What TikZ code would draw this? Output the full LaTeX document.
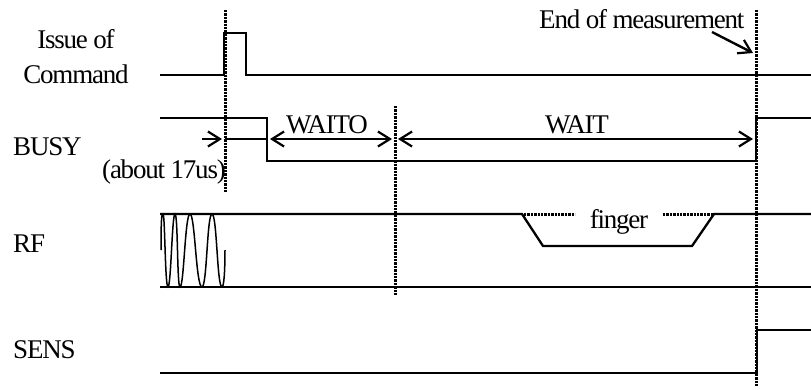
\documentclass[tikz,border=0pt]{standalone}
\usepackage{fontspec}
\setmainfont{Liberation Serif}
\usetikzlibrary{arrows.meta}
\tikzset{
    signal/.style={
        line width=2.3pt,
        color=black
    },
    marker/.style={
        line width=3pt,
        dash pattern=on 2.4pt off 1pt
    },
    span/.style={
        {Straight Barb[length=12pt,width=15pt,line width=2.2pt]}-{Straight Barb[length=12pt,width=15pt,line width=2.2pt]},
        line width=2.6pt
    },
    pointer/.style={
        -{Straight Barb[length=12pt,width=15pt,line width=2.2pt]},
        line width=2.4pt
    },
    wave/.style={
        line width=1.5pt,
        color=black
    },
    figurelabel/.style={
        font=\fontsize{27}{27}\selectfont\addfontfeatures{LetterSpace=-4.5},
        inner sep=0pt,
        anchor=base
    },
    signallabel/.style={
        figurelabel,
        anchor=base west
    }
}

\begin{document}
\begin{tikzpicture}[x=1pt,y=-1pt]

    \useasboundingbox (0,0) rectangle (811,389);

    % Issue of Command
    \draw[signal]
        (160,75) -- (224,75) -- (224,33) -- (246,33) -- (246,75) -- (811,75);

    % BUSY
    \draw[signal]
        (160,118) -- (267,118) -- (267,161) -- (756,161) -- (756,118) -- (811,118);

    % RF
    \draw[signal]
        (160,287) -- (811,287);
    \draw[signal]
        (160,214) -- (522,214) -- (543,246) -- (692,246) -- (714,214) -- (811,214);
    \draw[marker]
        (524,214) -- (575,214);
    \draw[marker]
        (663,214) -- (714,214);

    % Porteuse
    \draw[wave]
        (161,250)
        .. controls (161,214) and (162,214) .. (163,214)
        .. controls (165,214) and (165,287) .. (168,287)
        .. controls (171,287) and (172,214) .. (175,214)
        .. controls (178,214) and (177,287) .. (180,287)
        .. controls (184,287) and (185,214) .. (190,214)
        .. controls (195,214) and (196,287) .. (202,287)
        .. controls (207,287) and (207,214) .. (212,214)
        .. controls (217,214) and (217,287) .. (222,287)
        .. controls (224,287) and (225,270) .. (225,250);

    % SENS
    \draw[signal]
        (160,373) -- (757,373) -- (757,330) -- (811,330);

    % Verticales
    \coordinate (starttop) at (225,10);
    \coordinate (startbot) at (225,192);
    \coordinate (waittop) at (395,106);
    \coordinate (waitbot) at (395,296);
    \coordinate (endtop) at (756,10);
    \coordinate (endbot) at (756,386);
    \draw[marker] (starttop) -- (startbot);
    \draw[marker] (waittop) -- (waitbot);
    \draw[marker] (endtop) -- (endbot);

    % Durees
    \coordinate (delayfrom) at (202,139);
    \coordinate (delayto) at (222,139);
    \coordinate (delayline) at (225,139);
    \coordinate (fall) at (267,139);
    \coordinate (waitofrom) at (270,139);
    \coordinate (waitoto) at (392,139);
    \coordinate (waitfrom) at (398,139);
    \coordinate (waitto) at (753,139);
    \draw[pointer] (delayfrom) -- (delayto);
    \draw[line width=1.2pt] (delayline) -- (fall);
    \draw[span] (waitofrom) -- (waitoto);
    \draw[span] (waitfrom) -- (waitto);

    % Fin de mesure
    \coordinate (endfrom) at (712,32);
    \coordinate (endto) at (753,53);
    \draw[pointer] (endfrom) -- (endto);

    % Labels
    \node[figurelabel] (issue) at (76,48) {Issue of};
    \node[figurelabel] (command) at (76,83) {Command};
    \node[signallabel] (busy) at (13,155) {BUSY};
    \node[signallabel] (about) at (102,178) {(about 17us)};
    \node[signallabel] (rf) at (13,252) {RF};
    \node[signallabel] (sens) at (13,358) {SENS};
    \node[figurelabel] (waito) at (327,133) {WAITO};
    \node[figurelabel] (wait) at (577,133) {WAIT};
    \node[figurelabel] (finger) at (619,228) {finger};
    \node[signallabel] (endlabel) at (539,28) {End of measurement};

\end{tikzpicture}
\end{document}
